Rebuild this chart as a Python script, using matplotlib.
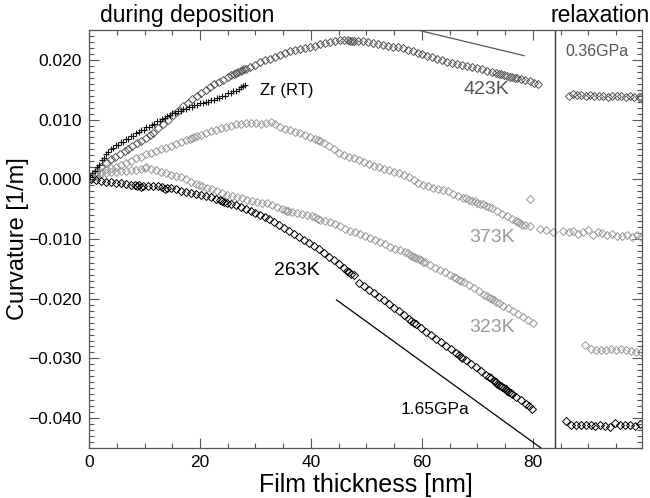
import matplotlib
matplotlib.use("Agg")
import matplotlib.pyplot as plt
from matplotlib.ticker import MultipleLocator

plt.rcParams['font.family'] = ['Liberation Sans', 'DejaVu Sans']

# ---------------- data ----------------
zr_x = [0.2,0.6,1.0,1.4,1.8,2.3,2.7,3.1,3.5,4.0,4.4,4.9,5.3,5.8,6.2,6.7,7.1,7.6,8.0,8.5,
        9.0,9.4,9.9,10.3,10.8,11.3,11.7,12.2,12.7,13.1,13.6,14.1,14.6,15.0,15.5,16.0,16.5,
        17.0,17.5,18.0,18.5,19.0,19.5,20.0,20.5,21.0,21.5,22.0,22.5,23.0,23.5,24.0,24.5,
        25.0,25.5,26.0,26.5,27.0,27.4,27.8,28.1]
zr_y = [0.0003,0.0010,0.0014,0.0020,0.0024,0.0032,0.0036,0.0043,0.0045,0.0051,0.0052,0.0057,
        0.0057,0.0062,0.0062,0.0067,0.0067,0.0072,0.0073,0.0078,0.0079,0.0083,0.0083,0.0087,
        0.0087,0.0091,0.0092,0.0097,0.0097,0.0101,0.0102,0.0106,0.0107,0.0111,0.0111,0.0115,
        0.0115,0.0118,0.0118,0.0121,0.0121,0.0124,0.0124,0.0127,0.0127,0.0130,0.0130,0.0133,
        0.0133,0.0136,0.0136,0.0140,0.0140,0.0144,0.0144,0.0148,0.0148,0.0152,0.0154,0.0156,0.0158]

k423_x = [0.3,1.2,2.1,3.0,3.9,4.7,5.6,6.4,7.0,7.8,8.6,9.4,10.2,11.0,11.6,12.5,13.4,14.3,15.2,
          16.1,17.0,17.8,18.6,19.4,20.2,21.0,21.8,22.6,23.4,24.2,25.0,25.6,26.1,26.5,26.9,27.3,
          27.6,27.9,28.3,29.0,29.9,30.8,31.7,32.6,33.5,34.4,35.3,36.2,37.1,38.0,38.9,39.8,40.7,
          41.6,42.5,43.4,44.3,45.2,46.0,46.7,47.1,47.4,47.7,48.4,49.3,50.2,51.1,52.0,52.9,53.8,
          54.7,55.6,56.5,57.4,58.3,59.2,60.1,61.0,61.9,62.8,63.7,64.6,65.5,66.4,67.3,68.2,69.1,
          70.0,70.9,71.8,72.7,73.3,73.8,74.3,74.8,75.3,75.8,76.2,76.7,77.2,77.8,78.6,79.4,80.2,80.9]
k423_y = [0.0003,0.0012,0.0020,0.0027,0.0034,0.0038,0.0043,0.0048,0.0050,0.0056,0.0060,0.0064,
          0.0069,0.0074,0.0078,0.0086,0.0093,0.0100,0.0108,0.0115,0.0122,0.0128,0.0134,0.0140,
          0.0145,0.0150,0.0155,0.0159,0.0163,0.0167,0.0171,0.0174,0.0176,0.0178,0.0179,0.0181,
          0.0183,0.0184,0.0185,0.0188,0.0192,0.0196,0.0199,0.0202,0.0205,0.0208,0.0211,0.0214,
          0.0216,0.0218,0.0220,0.0222,0.0224,0.0226,0.0228,0.0230,0.0232,0.0233,0.0234,0.0233,
          0.0232,0.0232,0.0232,0.0232,0.0231,0.0230,0.0228,0.0227,0.0225,0.0224,0.0222,0.0221,
          0.0219,0.0216,0.0214,0.0212,0.0209,0.0207,0.0205,0.0202,0.0199,0.0197,0.0194,0.0193,
          0.0192,0.0190,0.0188,0.0186,0.0184,0.0182,0.0180,0.0178,0.0177,0.0176,0.0175,0.0173,
          0.0172,0.0171,0.0170,0.0170,0.0168,0.0166,0.0164,0.0162,0.0160]
k423_rx = [86.5,87.3,88.0,88.7,89.5,90.3,91.1,91.9,92.7,93.5,94.3,95.1,95.9,96.7,97.5,98.3,99.1,99.5]
k423_ry = [0.0140,0.0142,0.0141,0.0141,0.0140,0.0141,0.0140,0.0139,0.0139,0.0138,0.0139,0.0140,
           0.0139,0.0138,0.0139,0.0138,0.0137,0.0137]

k373_x = [0.3,1.2,2.1,3.0,3.9,4.8,5.7,6.6,7.5,8.4,9.3,10.2,11.1,12.0,12.9,13.8,14.7,15.6,16.5,
          17.4,18.2,18.6,19.0,19.4,20.2,21.1,22.0,22.9,23.8,24.7,25.6,26.5,27.4,28.3,29.2,30.1,
          31.0,31.9,32.8,33.6,34.4,35.3,36.2,37.1,38.0,38.9,39.8,40.7,41.3,41.7,42.4,43.3,44.2,
          45.1,46.0,46.9,47.8,48.7,49.6,50.5,51.4,52.3,53.2,54.1,55.0,55.9,56.8,57.7,58.6,59.3,
          60.2,61.1,62.0,62.9,63.8,64.7,65.6,66.5,67.4,68.0,68.5,69.0,69.5,70.0,70.5,71.0,71.5,
          72.0,72.6,73.5,74.4,75.3,76.2,76.9,77.3,77.7,78.1,78.5,79.4,79.5,81.3,82.4,83.6,
          85.5,86.5,87.3,88.2,89.0,89.9,90.8,91.7,92.5,93.4,94.3,95.2,96.1,97.0,97.9,98.8,99.4]
k373_y = [0.0002,0.0008,0.0013,0.0017,0.0019,0.0021,0.0024,0.0028,0.0031,0.0035,0.0038,0.0042,
          0.0044,0.0047,0.0050,0.0053,0.0056,0.0059,0.0062,0.0065,0.0068,0.0069,0.0071,0.0072,
          0.0074,0.0077,0.0080,0.0083,0.0086,0.0088,0.0090,0.0092,0.0093,0.0094,0.0095,0.0094,
          0.0093,0.0094,0.0096,0.0092,0.0088,0.0085,0.0082,0.0079,0.0077,0.0074,0.0071,0.0068,
          0.0066,0.0064,0.0060,0.0056,0.0050,0.0044,0.0040,0.0037,0.0035,0.0032,0.0029,0.0026,
          0.0023,0.0020,0.0018,0.0015,0.0013,0.0010,0.0007,0.0003,-0.0001,-0.0006,-0.0009,-0.0011,
          -0.0014,-0.0017,-0.0018,-0.0020,-0.0024,-0.0028,-0.0031,-0.0032,-0.0034,-0.0036,-0.0037,
          -0.0039,-0.0041,-0.0042,-0.0044,-0.0046,-0.0048,-0.0053,-0.0058,-0.0062,-0.0066,-0.0070,
          -0.0072,-0.0074,-0.0076,-0.0077,-0.0078,-0.0033,-0.0084,-0.0085,-0.0088,
          -0.0086,-0.0088,-0.0086,-0.0091,-0.0088,-0.0085,-0.0093,-0.0088,-0.0090,-0.0093,-0.0092,
          -0.0095,-0.0095,-0.0093,-0.0096,-0.0094,-0.0096]

k323_x = [0.3,1.2,2.1,3.0,3.9,4.8,5.7,6.6,7.5,8.4,9.3,10.0,10.3,11.1,12.0,12.9,13.8,14.7,15.6,
          16.5,17.4,18.3,19.2,19.8,20.4,21.3,22.2,23.1,24.0,24.9,25.8,26.7,27.6,28.5,29.4,30.3,
          31.2,32.1,33.0,33.9,34.8,35.3,35.6,35.9,36.5,37.4,38.3,39.2,40.1,40.7,41.2,41.6,42.5,
          43.4,44.3,45.2,46.1,47.0,47.9,48.8,49.7,50.6,51.5,52.4,53.3,54.2,55.1,56.0,56.9,57.4,
          57.8,58.2,58.6,59.0,59.4,59.8,60.2,60.6,61.5,62.4,63.3,64.2,65.1,65.8,66.2,66.6,67.0,
          67.5,68.4,69.3,70.2,71.1,71.8,72.2,72.6,73.0,73.4,73.8,74.7,75.6,76.5,77.4,78.3,79.2,80.1]
k323_y = [0.0002,0.0006,0.0009,0.0011,0.0013,0.0013,0.0014,0.0014,0.0015,0.0015,0.0017,0.0019,
          0.0020,0.0017,0.0015,0.0012,0.0010,0.0007,0.0005,0.0003,0.0000,-0.0004,-0.0008,-0.0010,
          -0.0012,-0.0014,-0.0017,-0.0020,-0.0023,-0.0026,-0.0028,-0.0030,-0.0032,-0.0034,-0.0036,
          -0.0038,-0.0039,-0.0040,-0.0043,-0.0046,-0.0050,-0.0052,-0.0053,-0.0053,-0.0054,-0.0056,
          -0.0058,-0.0060,-0.0062,-0.0064,-0.0066,-0.0068,-0.0070,-0.0072,-0.0075,-0.0079,-0.0083,
          -0.0086,-0.0089,-0.0092,-0.0095,-0.0099,-0.0102,-0.0105,-0.0109,-0.0113,-0.0116,-0.0119,
          -0.0122,-0.0124,-0.0126,-0.0128,-0.0130,-0.0132,-0.0134,-0.0136,-0.0138,-0.0139,-0.0143,
          -0.0148,-0.0152,-0.0156,-0.0160,-0.0164,-0.0166,-0.0168,-0.0170,-0.0172,-0.0177,-0.0182,
          -0.0187,-0.0193,-0.0196,-0.0199,-0.0201,-0.0203,-0.0205,-0.0207,-0.0212,-0.0216,-0.0221,
          -0.0226,-0.0231,-0.0236,-0.0240]
k323_rx = [89.4,90.5,91.4,92.3,93.2,94.1,95.0,95.9,96.8,97.7,98.6,99.4]
k323_ry = [-0.0277,-0.0285,-0.0286,-0.0286,-0.0286,-0.0285,-0.0286,-0.0284,-0.0286,-0.0288,
           -0.0290,-0.0290]

k263_x = [0.3,1.2,2.1,3.0,3.9,4.8,5.7,6.6,7.5,8.2,8.6,9.0,9.4,9.8,10.7,11.6,12.5,13.2,13.6,14.0,
          14.8,15.7,16.6,17.5,18.4,19.3,20.2,21.1,22.0,22.9,23.6,24.0,24.4,24.8,25.5,26.4,27.3,
          28.2,29.1,30.0,30.9,31.8,32.4,33.3,34.2,35.1,36.0,36.9,37.8,38.7,39.6,40.5,41.4,42.3,
          43.2,44.1,45.0,45.9,46.5,46.9,47.3,47.7,48.6,49.5,50.4,51.3,52.2,53.1,54.0,54.9,55.8,
          56.7,57.6,58.1,58.5,58.9,59.8,60.7,61.6,62.5,63.4,64.3,65.2,66.1,66.7,67.0,67.3,67.9,
          68.8,69.7,70.6,71.5,72.0,72.4,72.9,73.3,73.6,73.9,74.2,74.5,74.8,75.1,75.4,75.7,76.0,
          76.3,76.9,77.8,78.7,79.3,79.9]
k263_y = [0.0000,-0.0001,-0.0003,-0.0004,-0.0005,-0.0006,-0.0007,-0.0008,-0.0009,-0.0010,-0.0012,
          -0.0009,-0.0013,-0.0011,-0.0011,-0.0012,-0.0012,-0.0013,-0.0016,-0.0014,-0.0015,-0.0017,
          -0.0019,-0.0021,-0.0023,-0.0025,-0.0026,-0.0028,-0.0030,-0.0033,-0.0035,-0.0037,-0.0038,
          -0.0039,-0.0041,-0.0043,-0.0046,-0.0050,-0.0053,-0.0056,-0.0060,-0.0064,-0.0067,-0.0071,
          -0.0076,-0.0081,-0.0087,-0.0092,-0.0097,-0.0102,-0.0107,-0.0111,-0.0117,-0.0123,-0.0130,
          -0.0136,-0.0142,-0.0149,-0.0153,-0.0156,-0.0158,-0.0161,-0.0173,-0.0179,-0.0185,-0.0191,
          -0.0197,-0.0203,-0.0209,-0.0215,-0.0221,-0.0228,-0.0234,-0.0237,-0.0240,-0.0243,-0.0249,
          -0.0255,-0.0261,-0.0267,-0.0273,-0.0279,-0.0285,-0.0291,-0.0295,-0.0297,-0.0299,-0.0303,
          -0.0309,-0.0315,-0.0321,-0.0327,-0.0331,-0.0333,-0.0337,-0.0340,-0.0342,-0.0344,-0.0346,
          -0.0348,-0.0350,-0.0352,-0.0354,-0.0356,-0.0358,-0.0360,-0.0364,-0.0370,-0.0376,-0.0380,
          -0.0384]
k263_rx = [85.9,86.8,87.7,88.6,89.5,90.4,91.2,92.1,93.0,93.9,94.8,95.7,96.6,97.5,98.4,99.3]
k263_ry = [-0.0405,-0.0412,-0.0411,-0.0411,-0.0412,-0.0411,-0.0413,-0.0412,-0.0413,-0.0414,
           -0.0408,-0.0411,-0.0411,-0.0412,-0.0413,-0.0410]

line165_x = [44.6, 81.6]
line165_y = [-0.0202, -0.0451]
line036_x = [59.6, 78.4]
line036_y = [0.0249, 0.0207]
split_x = 84.0

# ---------------- plot ----------------
DARK = '#555555'
LIGHT = '#9a9a9a'

fig = plt.figure(figsize=(6.5, 4.98), dpi=100)
ax = fig.add_axes([0.137, 0.1004, 0.851, 0.8394])

mk = dict(marker='D', linestyle='none', markersize=3.7, markerfacecolor='none', markeredgewidth=0.7)
ax.plot(k423_x, k423_y, color=DARK, **mk)
ax.plot(k423_rx, k423_ry, color=DARK, **mk)
ax.plot(k373_x, k373_y, color=LIGHT, **mk)
ax.plot(k323_x, k323_y, color=LIGHT, **mk)
ax.plot(k323_rx, k323_ry, color=LIGHT, **mk)
ax.plot(k263_x, k263_y, color='black', **mk)
ax.plot(k263_rx, k263_ry, color='black', **mk)
ax.plot(zr_x, zr_y, color='#111111', marker='+', linestyle='none', markersize=5, markeredgewidth=0.8)

ax.plot(line165_x, line165_y, color='black', lw=0.9, clip_on=True)
ax.plot(line036_x, line036_y, color=DARK, lw=0.9, clip_on=True)
ax.axvline(split_x, color='#333333', lw=1.0)

ax.set_xlim(0, 99.7)
ax.set_ylim(-0.045, 0.025)
ax.xaxis.set_minor_locator(MultipleLocator(5))
ax.yaxis.set_minor_locator(MultipleLocator(0.001))
ax.set_xticks([0, 20, 40, 60, 80])
ax.set_xticklabels(['0', '20', '40', '60', '80'])
ax.set_yticks([0.02, 0.01, 0.0, -0.01, -0.02, -0.03, -0.04])
ax.set_yticklabels(['0.020', '0.010', '0.000', '\u22120.010', '\u22120.020', '\u22120.030', '\u22120.040'])
ax.tick_params(which='both', direction='in', top=True, right=True, color='#555555', labelsize=12.5, labelcolor='black')
ax.tick_params(which='major', length=7.5, width=0.8, pad=5)
ax.tick_params(which='minor', length=3.6, width=0.8)
for s in ax.spines.values():
    s.set_color('#555555')
    s.set_linewidth(0.9)

ax.set_xlabel('Film thickness [nm]', fontsize=18, labelpad=2)
ax.set_ylabel('Curvature [1/m]', fontsize=17)
ax.yaxis.set_label_coords(-0.108, 0.5)

ax.text(30.8, 0.0148, 'Zr (RT)', fontsize=12, color='black', va='center', ha='left')
ax.text(71.7, 0.0151, '423K', fontsize=14, color=DARK, va='center', ha='center')
ax.text(72.7, -0.0097, '373K', fontsize=14, color=LIGHT, va='center', ha='center')
ax.text(72.7, -0.0248, '323K', fontsize=14, color=LIGHT, va='center', ha='center')
ax.text(37.4, -0.0152, '263K', fontsize=14, color='black', va='center', ha='center')
ax.text(62.4, -0.0385, '1.65GPa', fontsize=12.5, color='black', va='center', ha='center')
ax.text(85.8, 0.0214, '0.36GPa', fontsize=11.5, color=DARK, va='center', ha='left')

fig.text(0.154, 0.968, 'during deposition', fontsize=16.5, ha='left', va='center')
fig.text(0.999, 0.968, 'relaxation', fontsize=16.5, ha='right', va='center')

fig.savefig('out.png', dpi=100)
